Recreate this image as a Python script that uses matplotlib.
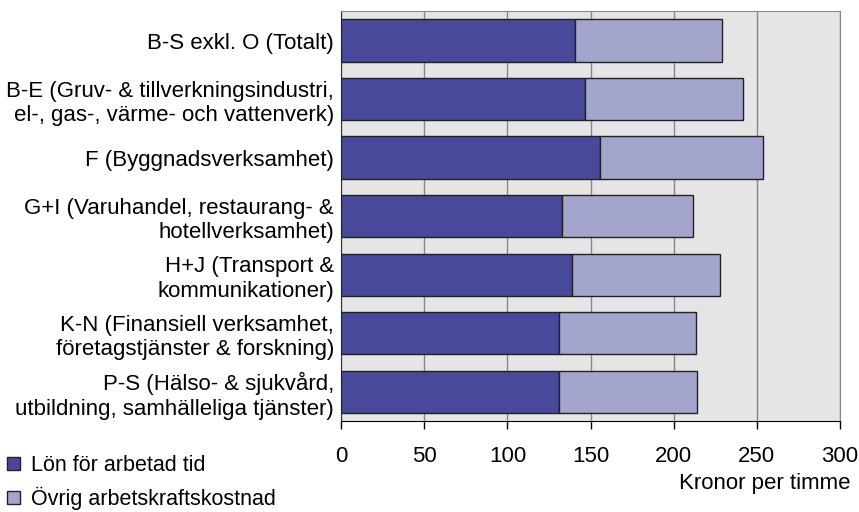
import numpy as np
import matplotlib.pyplot as plt

plt.rcParams['font.family'] = ['Liberation Sans', 'DejaVu Sans']

categories = [
    'B-S exkl. O (Totalt)',
    'B-E (Gruv- & tillverkningsindustri,\nel-, gas-, värme- och vattenverk)',
    'F (Byggnadsverksamhet)',
    'G+I (Varuhandel, restaurang- &\nhotellverksamhet)',
    'H+J (Transport &\nkommunikationer)',
    'K-N (Finansiell verksamhet,\nföretagstjänster & forskning)',
    'P-S (Hälso- & sjukvård,\nutbildning, samhälleliga tjänster)',
]
lon = [140.7, 146.6, 155.4, 132.7, 138.7, 131.1, 131.1]
totalt = [229.3, 241.5, 253.4, 211.5, 227.9, 213.5, 213.9]
ovrig = [t - l for t, l in zip(totalt, lon)]

dark = '#48499a'
light = '#a4a5cc'
fs = 16

fig = plt.figure(figsize=(8.59, 5.12), dpi=100)
ax = fig.add_axes([0.397, 0.178, 0.581, 0.8])
ax.set_facecolor('#e5e5e5')

y = np.arange(len(categories))
ax.barh(y, lon, height=0.72, color=dark, edgecolor='#222222', linewidth=1,
        label='Lön för arbetad tid', zorder=3)
ax.barh(y, ovrig, left=lon, height=0.72, color=light, edgecolor='#222222',
        linewidth=1, label='Övrig arbetskraftskostnad', zorder=3)

ax.set_xlim(0, 300)
ax.set_ylim(len(categories) - 0.5, -0.5)
ax.set_xticks(range(0, 301, 50))
ax.set_yticks(y)
ax.set_yticklabels(categories, fontsize=fs, linespacing=1.22)
ax.tick_params(axis='y', length=0, pad=5)
ax.tick_params(axis='x', length=6, width=1, color='black', labelsize=fs, pad=12)
ax.grid(axis='x', color='#888888', linewidth=1, zorder=1)
for s in ['top', 'right']:
    ax.spines[s].set_color('#888888')
ax.spines['left'].set_color('#333333')
ax.spines['bottom'].set_color('black')

fig.text(0.990, 0.035, 'Kronor per timme', ha='right', va='bottom', fontsize=fs)

fig.legend(loc='lower left', bbox_to_anchor=(-0.014, -0.034), frameon=False,
           fontsize=15.5, handlelength=0.6, handleheight=0.6,
           handletextpad=0.5, labelspacing=0.5)

fig.savefig('out.png', dpi=100)
